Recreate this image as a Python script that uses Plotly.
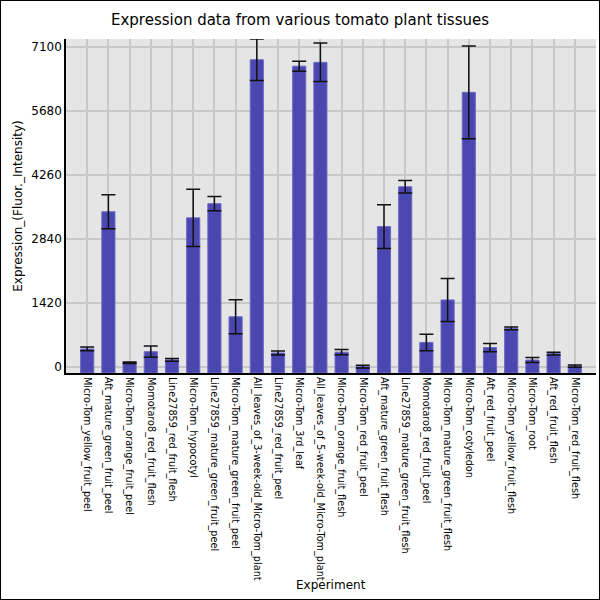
import plotly.graph_objects as go

# tissue names, in the order they appear along the x axis
experiments = [
    "Micro-Tom_yellow_fruit_peel",
    "Aft_mature_green_fruit_peel",
    "Micro-Tom_orange_fruit_peel",
    "Momotaro8_red_fruit_flesh",
    "Line27859_red_fruit_flesh",
    "Micro-Tom_hypocotyl",
    "Line27859_mature_green_fruit_peel",
    "Micro-Tom_mature_green_fruit_peel",
    "All_leaves_of_3-week-old_Micro-Tom_plant",
    "Line27859_red_fruit_peel",
    "Micro-Tom_3rd_leaf",
    "All_leaves_of_5-week-old_Micro-Tom_plant",
    "Micro-Tom_orange_fruit_flesh",
    "Micro-Tom_red_fruit_peel",
    "Aft_mature_green_fruit_flesh",
    "Line27859_mature_green_fruit_flesh",
    "Momotaro8_red_fruit_peel",
    "Micro-Tom_mature_green_fruit_flesh",
    "Micro-Tom_cotyledon",
    "Aft_red_fruit_peel",
    "Micro-Tom_yellow_fruit_flesh",
    "Micro-Tom_root",
    "Aft_red_fruit_flesh",
    "Micro-Tom_red_fruit_flesh",
]

# mean expression and its error
expression = [400, 3445, 95, 340, 158, 3310, 3625, 1115, 6818, 311, 6675, 6760,
              330, 8, 3115, 4000, 545, 1488, 6095, 430, 858, 155, 298, 22]
expression_err = [42, 375, 15, 126, 33, 634, 160, 375, 460, 45, 111, 427,
                  59, 30, 485, 137, 182, 478, 1030, 89, 30, 55, 30, 25]

Y_MIN, Y_MAX = -133, 7278
FONT = "DejaVu Sans"

fig = go.Figure()

# bars are drawn up from the bottom of the axis, as in the original
fig.add_trace(go.Bar(
    x=experiments,
    y=[v - Y_MIN for v in expression],
    base=Y_MIN,
    width=0.62,
    marker=dict(color="#4b47b0", line=dict(color="#6d69c6", width=1)),
    showlegend=False,
))

# error bars on an invisible scatter so they sit on the true values
fig.add_trace(go.Scatter(
    x=experiments,
    y=expression,
    mode="markers",
    marker=dict(color="rgba(0,0,0,0)", size=1),
    error_y=dict(type="data", array=expression_err, visible=True,
                 color="#111111", thickness=1.5, width=7),
    cliponaxis=False,
    showlegend=False,
))

M_L, M_R, M_T, M_B = 66, 4, 39, 227
plot_w = 600 - M_L - M_R
plot_h = 600 - M_T - M_B

fig.update_layout(
    width=600,
    height=600,
    margin=dict(l=M_L, r=M_R, t=M_T, b=M_B),
    paper_bgcolor="white",
    plot_bgcolor="#e5e5e5",
    font=dict(family=FONT, color="black", size=12),
    title=dict(
        text="Expression data from various tomato plant tissues",
        x=0.5, xanchor="center",
        y=1 - 20 / 600, yanchor="middle",
        font=dict(family=FONT, size=15, color="black"),
    ),
    xaxis=dict(
        range=[-1, 24],
        tickangle=90,
        tickfont=dict(family=FONT, size=9.7, color="black"),
        showline=True, linecolor="black", linewidth=2,
        showgrid=True, gridcolor="#c8c8c8", gridwidth=1.5,
        ticks="",
    ),
    yaxis=dict(
        range=[Y_MIN, Y_MAX],
        tick0=0, dtick=1420,
        tickfont=dict(family=FONT, size=12, color="black"),
        showline=True, linecolor="black", linewidth=1.5,
        showgrid=True, gridcolor="#c8c8c8", gridwidth=1.5,
        zeroline=False,
        ticks="",
        title=dict(text="Expression_(Fluor._Intensity)",
                   font=dict(family=FONT, size=12, color="black"),
                   standoff=6),
    ),
    annotations=[dict(
        text="Experiment", showarrow=False,
        xref="paper", yref="paper", x=0.5, xanchor="center",
        y=(600 - M_B - 585) / plot_h, yanchor="middle",
        font=dict(family=FONT, size=12, color="black"),
    )],
    shapes=[dict(
        type="rect", xref="paper", yref="paper",
        x0=-M_L / plot_w, x1=1 + M_R / plot_w,
        y0=-M_B / plot_h, y1=1 + M_T / plot_h,
        line=dict(color="black", width=2),
    )],
)

# drop the page's default body margin so the 600x600 figure fills the window
fig.write_html("out.html", config={"displayModeBar": False},
               post_script="document.body.style.margin='0';")
